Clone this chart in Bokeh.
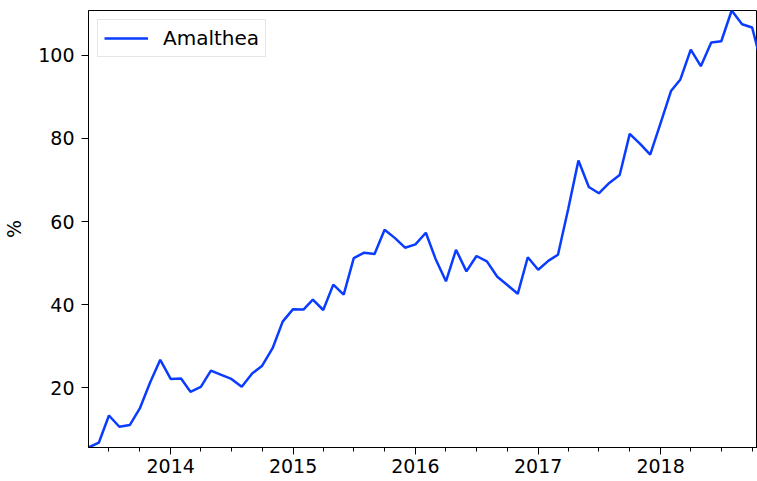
import pandas as pd
from datetime import datetime
from bokeh.plotting import figure
from bokeh.models import Range1d, FixedTicker, DatetimeTickFormatter, Legend, LegendItem
from bokeh.embed import file_html
from bokeh.resources import INLINE

# ---- data ----
series_name = "Amalthea"
dates = pd.date_range("2013-05-01", periods=67, freq="MS")
values = [
    5.6, 6.8, 13.3, 10.6, 11.0, 15.0, 21.3, 26.7,
    22.1, 22.2, 19.0, 20.2, 24.1, 23.1, 22.1, 20.2, 23.4, 25.3, 29.5, 35.9,
    38.9, 38.8, 41.2, 38.7, 44.8, 42.4, 51.2, 52.5, 52.2, 58.0, 56.0, 53.7,
    54.5, 57.3, 51.0, 45.6, 53.2, 48.0, 51.7, 50.4, 46.7, 44.7, 42.6, 51.4,
    48.4, 50.6, 52.0, 63.2, 74.7, 68.3, 66.8, 69.3, 71.2, 81.1, 78.7, 76.1,
    83.7, 91.4, 94.2, 101.4, 97.4, 103.1, 103.4, 110.8, 107.5, 106.7, 97.0,
]
year_ticks = [2014, 2015, 2016, 2017, 2018]
y_ticks = [20, 40, 60, 80, 100]
y_label = "%"

FONT = "DejaVu Sans"
BLUE = "#0a3cff"
FS = "19px"


def ms(d):
    return pd.Timestamp(d).value / 1e6


x_end = datetime(2018, 10, 17)

p = figure(
    width=757, height=480, x_axis_type="datetime",
    output_backend="svg", toolbar_location=None,
    x_range=Range1d(dates[0], x_end),
    y_range=Range1d(min(values), max(values)),
    min_border_left=87, min_border_top=10, min_border_right=0, min_border_bottom=33,
)
p.background_fill_color = "white"
p.border_fill_color = "white"
p.outline_line_color = "black"
p.outline_line_width = 1
p.xgrid.visible = False
p.ygrid.visible = False

r = p.line(dates, values, line_color=BLUE, line_width=2.5)

# x axis
major = [ms(datetime(y, 1, 1)) for y in year_ticks]
minor = [ms(datetime(y, m, 1)) for y in range(2013, 2019) for m in (1, 4, 7, 10)]
p.xaxis.ticker = FixedTicker(ticks=major, minor_ticks=minor)
p.xaxis.formatter = DatetimeTickFormatter(
    years="%Y", months="%Y", days="%Y", hours="%Y", hourmin="%Y",
    minutes="%Y", minsec="%Y", seconds="%Y", milliseconds="%Y", microseconds="%Y",
)
p.yaxis.ticker = FixedTicker(ticks=y_ticks)
p.yaxis.axis_label = y_label

for ax in (p.xaxis[0], p.yaxis[0]):
    ax.axis_line_color = "black"
    ax.major_tick_line_color = "black"
    ax.major_tick_in = 0
    ax.major_tick_out = 7
    ax.minor_tick_in = 0
    ax.minor_tick_out = 4
    ax.major_label_text_font = FONT
    ax.major_label_text_font_size = FS
    ax.major_label_text_color = "black"
    ax.axis_label_text_font = FONT
    ax.axis_label_text_font_size = FS
    ax.axis_label_text_font_style = "normal"
    ax.axis_label_text_color = "black"

p.xaxis.major_label_standoff = 4
p.xaxis.minor_tick_line_color = "black"
p.yaxis.minor_tick_line_color = None
p.yaxis.major_label_standoff = 7
p.yaxis.axis_label_standoff = 10

legend = Legend(items=[LegendItem(label=series_name, renderers=[r])], location="top_left")
legend.margin = 9
legend.padding = 6
legend.glyph_width = 44
legend.label_standoff = 15
legend.label_text_font = FONT
legend.label_text_font_size = "20px"
legend.label_text_color = "black"
legend.border_line_color = "#cccccc"
legend.border_line_width = 1
legend.background_fill_alpha = 0.8
p.add_layout(legend)

open("out.html", "w").write(file_html(p, INLINE))
